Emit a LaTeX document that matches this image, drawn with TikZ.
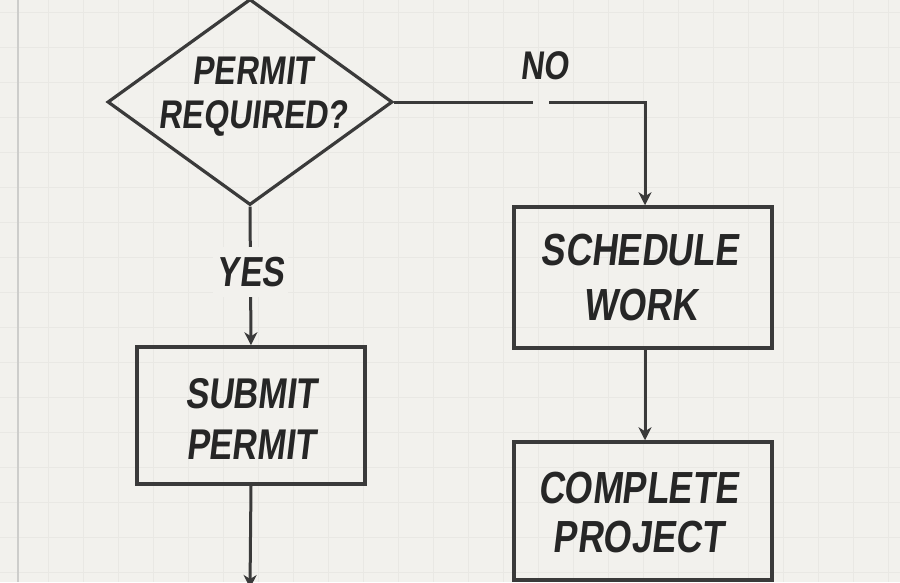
\documentclass[tikz,border=0pt]{standalone}
\usepackage{fontspec}
\setmainfont{Liberation Sans}
\newfontfamily\handfont[FakeStretch=0.8,FakeSlant=0.12]{Liberation Sans}
\usetikzlibrary{shapes.geometric,arrows.meta}
\definecolor{paper}{RGB}{242,241,237}
\definecolor{gridc}{RGB}{233,232,228}
\definecolor{ink}{RGB}{58,58,58}
\definecolor{txt}{RGB}{38,38,38}
\definecolor{margin}{RGB}{205,205,203}
\begin{document}
\begin{tikzpicture}[x=1pt,y=-1pt,
  box/.style={draw=ink, line width=3.5pt, rectangle, inner sep=0pt},
  decision/.style={draw=ink, line width=3.2pt, diamond, inner sep=0pt},
  lbl/.style={text=txt, align=center, inner sep=0pt},
  conn/.style={draw=ink, line width=3pt},
  arr/.style={conn, -{Stealth[length=13pt,width=13pt,inset=4pt]}}]
\useasboundingbox (0,0) rectangle (900,582);
\fill[paper] (0,0) rectangle (900,582);
% faint grid
\foreach \gx in {48,83,...,900} \draw[gridc, line width=0.8pt] (\gx,0) -- (\gx,582);
\foreach \gy in {12,47,...,582} \draw[gridc, line width=0.8pt] (0,\gy) -- (900,\gy);
% paper margin line
\draw[margin, line width=2.5pt] (18,0) -- (18,582);

% nodes
\node[decision, minimum width=285pt, minimum height=206pt] (q) at (250,102) {};
\node[lbl, font=\handfont\bfseries\fontsize{40}{44}\selectfont] (qt) at (253,97) {PERMIT\\REQUIRED?};
\node[box, minimum width=228pt, minimum height=137pt] (submit) at (251,415.5) {};
\node[lbl, font=\handfont\bfseries\fontsize{43}{51}\selectfont] (submitt) at (251,419) {SUBMIT\\PERMIT};
\node[box, minimum width=258pt, minimum height=141pt] (sched) at (643,277.5) {};
\node[lbl, font=\handfont\bfseries\fontsize{45}{55}\selectfont] (schedt) at (640,278) {SCHEDULE\\WORK};
\node[box, minimum width=258pt, minimum height=138pt] (complete) at (643,511) {};
\node[lbl, font=\handfont\bfseries\fontsize{45}{49}\selectfont] (completet) at (638,512) {COMPLETE\\PROJECT};
\node[lbl, font=\handfont\bfseries\fontsize{40}{40}\selectfont] (no) at (544,66) {NO};

\coordinate (gapA) at (533,102);
\coordinate (gapB) at (549,102);
\coordinate (down) at (250,588);

% connectors
\draw[conn] (q.east) -- (gapA);
\draw[arr] (gapB) -| ([xshift=2pt]sched.north);
\draw[arr] (q.south) -- node[pos=0.47, fill=paper, inner ysep=10pt, inner xsep=4pt, text=txt, font=\handfont\bfseries\fontsize{42}{42}\selectfont] (yes) {YES} (submit.north);
\draw[arr] ([xshift=2pt]sched.south) -- ([xshift=2pt]complete.north);
\draw[arr] (submit.south) -- (down);
\end{tikzpicture}
\end{document}
